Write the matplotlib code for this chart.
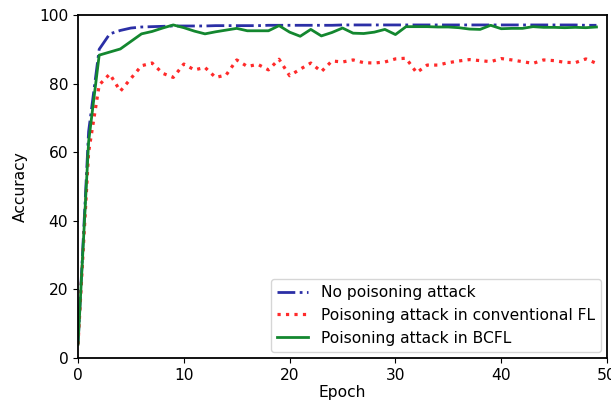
import matplotlib
matplotlib.use("Agg")
import matplotlib.pyplot as plt
import numpy as np

epochs = list(range(50))

no_attack = [4, 66, 90, 94.5, 95.5, 96.2, 96.5, 96.6, 96.7, 96.8,
             96.8, 96.8, 96.8, 96.9, 96.9, 96.9, 96.9, 96.9, 97.0, 97.0,
             97.0, 97.0, 97.0, 97.0, 97.0, 97.1, 97.1, 97.1, 97.1, 97.1,
             97.1, 97.1, 97.1, 97.1, 97.1, 97.1, 97.1, 97.1, 97.1, 97.1,
             97.1, 97.1, 97.1, 97.1, 97.1, 97.1, 97.1, 97.1, 97.0, 97.0]

conventional_fl = [4, 60, 79.6, 82.8, 77.8, 81.5, 85.2, 86.0, 83.0, 81.8,
                   85.7, 84.0, 84.7, 81.8, 82.5, 86.9, 85.0, 85.6, 84.0, 87.1,
                   82.3, 84.2, 86.0, 83.5, 86.6, 86.3, 86.9, 86.1, 86.0, 86.3,
                   87.2, 87.4, 83.2, 85.4, 85.4, 86.1, 86.6, 87.0, 86.7, 86.4,
                   87.3, 86.9, 86.4, 85.9, 86.9, 86.7, 86.2, 86.1, 87.2, 85.9]

bcfl = [4, 63, 88.3, 89.2, 90.1, 92.3, 94.5, 95.2, 96.2, 97.1,
        96.3, 95.3, 94.5, 95.1, 95.6, 96.1, 95.4, 95.4, 95.4, 96.9,
        95.0, 93.8, 95.8, 93.9, 94.9, 96.2, 94.7, 94.6, 95.0, 95.8,
        94.3, 96.6, 96.6, 96.6, 96.5, 96.5, 96.3, 95.9, 95.8, 97.0,
        96.0, 96.1, 96.1, 96.6, 96.4, 96.4, 96.3, 96.4, 96.3, 96.5]

labels = ["No poisoning attack",
          "Poisoning attack in conventional FL",
          "Poisoning attack in BCFL"]

fig = plt.figure(figsize=(6.11, 4.11), dpi=100)
ax = fig.add_axes([0.1277, 0.129, 0.8658, 0.8345])

fs = 11.2
ax.plot(epochs, no_attack, color="#2b2fa6", linestyle="-.", linewidth=2.0, label=labels[0])
ax.plot(epochs, conventional_fl, color="#ff2a2a", linestyle=":", linewidth=2.3, label=labels[1])
ax.plot(epochs, bcfl, color="#13872f", linestyle="-", linewidth=2.0, label=labels[2])

ax.set_xlim(0, 50)
ax.set_ylim(0, 100)
ax.set_xticks([0, 10, 20, 30, 40, 50])
ax.set_yticks([0, 20, 40, 60, 80, 100])
ax.tick_params(labelsize=fs)
ax.set_xlabel("Epoch", fontsize=fs, labelpad=2)
ax.set_ylabel("Accuracy", fontsize=fs, labelpad=8)
for s in ax.spines.values():
    s.set_linewidth(1.3)
ax.legend(loc="lower right", fontsize=fs, borderaxespad=0.4)

fig.savefig("out.png", dpi=100)
